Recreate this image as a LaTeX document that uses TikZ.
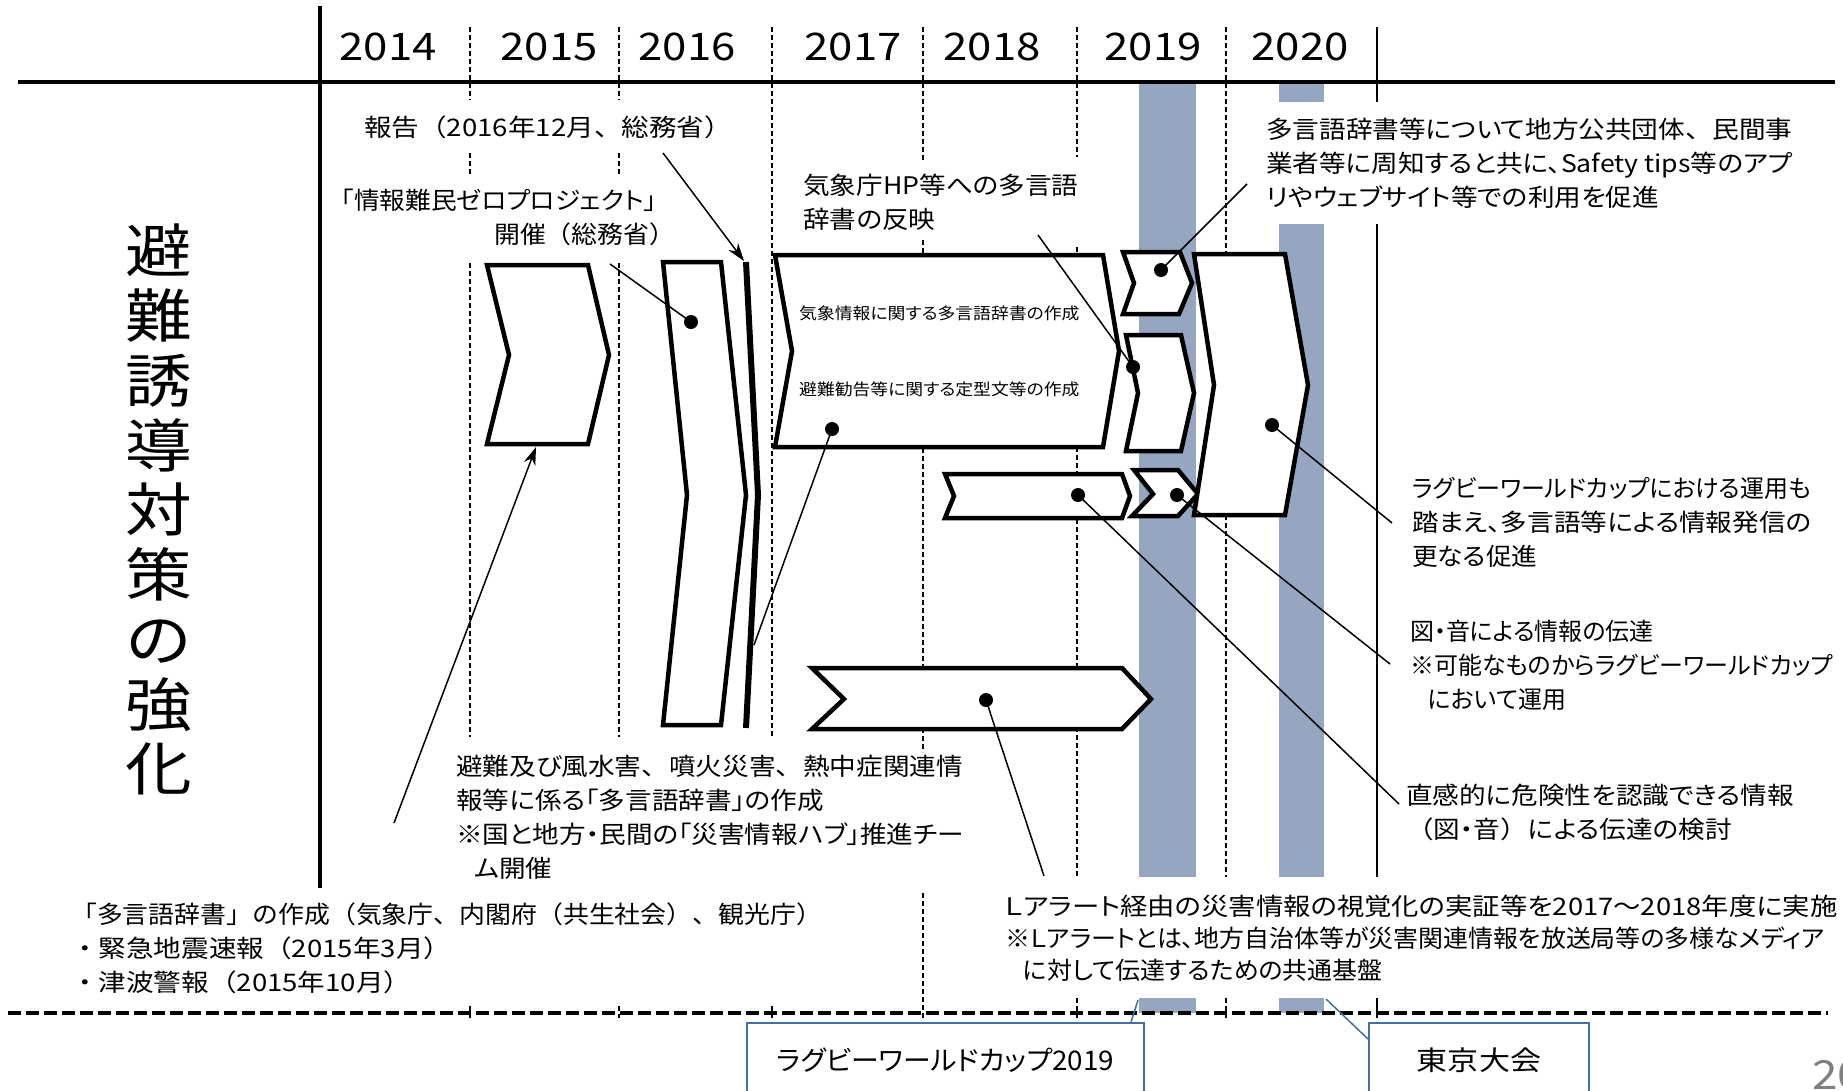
\documentclass[tikz,border=0pt]{standalone}
\usepackage{fontspec}
\setmainfont{Noto Sans CJK JP}[FakeStretch=1.15,RawFeature=+palt]
\newfontfamily\jpA{Noto Sans CJK JP}[FakeStretch=1.10,RawFeature=+palt]
\newfontfamily\jpB{Noto Sans CJK JP}[FakeStretch=1.06,RawFeature=+palt]
\newfontfamily\jpC{Noto Sans CJK JP}[FakeStretch=1.03,RawFeature=+palt]
\newfontfamily\jpD{Noto Sans CJK JP}[FakeStretch=0.99,RawFeature=+palt]
\newfontfamily\jpE{Noto Sans CJK JP}[FakeStretch=1.13,RawFeature=+palt]
\newfontfamily\jpF{Noto Sans CJK JP}[FakeStretch=1.07]
\newfontfamily\jpG{Noto Sans CJK JP}[FakeStretch=1.14]
\usetikzlibrary{arrows.meta}
\definecolor{barblue}{RGB}{151,166,192}
\definecolor{boxblue}{RGB}{65,113,156}
\definecolor{pagegrey}{RGB}{128,128,128}
\tikzset{
  chev/.style={draw=black, fill=white, line width=4.5pt, line join=miter},
  dot/.style={circle, fill=black, inner sep=0pt, minimum size=14pt},
  lead/.style={line width=1.5pt},
  arr/.style={line width=1.5pt, -{Stealth[length=18pt,width=12pt]}},
  ydash/.style={line width=1.4pt, dash pattern=on 5pt off 3pt},
  ysolid/.style={line width=1.4pt},
  txt/.style={align=left, inner sep=0pt, anchor=north west},
  txtA/.style={txt, font=\fontsize{24.2}{34}\selectfont\jpA},
  txtB/.style={txt, font=\fontsize{24.2}{34}\selectfont\jpB},
  txtD/.style={txt, font=\fontsize{24.2}{34}\selectfont\jpD},
  txtF/.style={txt, font=\fontsize{24.2}{34}\selectfont\jpF},
  txtG/.style={txt, font=\fontsize{24.2}{34}\selectfont\jpG},
  txtL/.style={txt, font=\fontsize{24.2}{32}\selectfont\jpC},
  smalltxt/.style={font=\fontsize{16.2}{18}\selectfont\jpA, inner sep=0pt, anchor=west},
  yr/.style={font=\fontsize{38}{40}\selectfont, inner sep=0pt},
  bbox/.style={draw=boxblue, line width=2pt, fill=white, inner sep=0pt},
  callout/.style={draw=boxblue, line width=1.5pt}
}
\begin{document}
\begin{tikzpicture}[x=1pt, y=-1pt]
\useasboundingbox[fill=white] (0,0) rectangle (1843,1090);

% event bars
\fill[barblue] (1139,82) rectangle (1196,877);
\fill[barblue] (1139,998) rectangle (1196,1013);
\fill[barblue] (1279,82) rectangle (1324,102);
\fill[barblue] (1279,224) rectangle (1324,877);
\fill[barblue] (1279,998) rectangle (1324,1013);

% year separators
\draw[ydash] (470,27) -- (470,100) (470,153) -- (470,175) (470,263) -- (470,737) (470,1006) -- (470,1018);
\draw[ydash] (619,27) -- (619,100) (619,153) -- (619,175) (619,263) -- (619,737) (619,1006) -- (619,1018);
\draw[ydash] (772,27) -- (772,737) (772,1006) -- (772,1018);
\draw[ydash] (923,27) -- (923,160) (923,240) -- (923,752) (923,893) -- (923,1018);
\draw[ydash] (1077,27) -- (1077,157) (1077,247) -- (1077,877) (1077,998) -- (1077,1018);
\draw[ydash] (1226,27) -- (1226,877) (1226,998) -- (1226,1018);
\draw[ysolid] (1377,27) -- (1377,102) (1377,224) -- (1377,877) (1377,998) -- (1377,1018);

% bottom dashed separator
\draw[line width=3.5pt, dash pattern=on 13pt off 5pt] (8,1013) -- (1828,1013);

% header lines
\draw[line width=4.5pt] (320,6) -- (320,888);
\draw[line width=4.5pt] (18,82) -- (1835,82);

% years
\node[yr] (y2014) at (388,47) {2014};
\node[yr] (y2015) at (549,47) {2015};
\node[yr] (y2016) at (687,47) {2016};
\node[yr] (y2017) at (853,47) {2017};
\node[yr] (y2018) at (992,47) {2018};
\node[yr] (y2019) at (1153,47) {2019};
\node[yr] (y2020) at (1300,47) {2020};

% row title
\node[font=\fontsize{58}{64.75}\selectfont, align=center, anchor=north, inner sep=0pt] (title) at (159,224)
  {避\\難\\誘\\導\\対\\策\\の\\強\\化};

% chevrons
\draw[chev] (487,265) -- (588,265) -- (609,355) -- (588,444) -- (487,444) -- (509,355) -- cycle;
\draw[chev] (663,262) -- (721,262) -- (746,495) -- (721,725) -- (663,725) -- (687,495) -- cycle;
\draw[line width=6pt, line join=miter] (746,262) -- (758,495) -- (746,728);
\draw[chev] (775,255) -- (1103,255) -- (1119,351) -- (1103,447) -- (775,447) -- (792,351) -- cycle;
\draw[chev] (945,474) -- (1122,474) -- (1130,496) -- (1122,518) -- (945,518) -- (954,496) -- cycle;
\draw[chev] (812,668) -- (1122,668) -- (1151,699) -- (1122,729) -- (812,729) -- (844,699) -- cycle;
\draw[chev] (1123,252) -- (1180,252) -- (1192,283) -- (1179,314) -- (1123,314) -- (1134,283) -- cycle;
\draw[chev] (1126,335) -- (1181,335) -- (1194,393) -- (1181,451) -- (1126,451) -- (1138,393) -- cycle;
\draw[chev] (1134,470) -- (1178,470) -- (1198,494) -- (1178,516) -- (1132,516) -- (1153,494) -- cycle;
\draw[chev] (1194,254) -- (1285,254) -- (1308,385) -- (1285,515) -- (1194,515) -- (1214,385) -- cycle;

% text
\node[txtG] (report) at (364,116) {報告（2016年12月、総務省）};
\node[txtB] (zero) at (341,189) {「情報難民ゼロプロジェクト」\\\hspace*{153pt}{\jpF 開催（総務省）}};
\node[txtA] (hp) at (803,174) {気象庁HP等への多言語\\辞書の反映};
\node[txtA] (apps) at (1266,118) {多言語辞書等について地方公共団体{\jpG 、}民間事\\業者等に周知すると共に、Safety tips等のアプ\\リやウェブサイト等での利用を促進};
\node[smalltxt] (wx) at (799,313) {気象情報に関する多言語辞書の作成};
\node[smalltxt] (std) at (799,389) {避難勧告等に関する定型文等の作成};
\node[txtB] (rugby) at (1412,477) {{\jpD ラグビーワールドカップにおける運用も}\\{\jpA 踏まえ、多言語等による情報発信の}\\更なる促進};
\node[txtD] (fig) at (1410,620) {図・音による情報の伝達\\※可能なものからラグビーワールドカップ\\\hspace*{18pt}において運用};
\node[txtA] (intu) at (1406,784) {直感的に危険性を認識できる情報\\{\jpG （}図・音{\jpG ）}による伝達の検討};
\node[txtA] (evac) at (456,755) {避難及び風水害{\jpG 、}噴火災害{\jpG 、}熱中症関連情\\報等に係る「多言語辞書」の作成\\※国と地方・民間の「災害情報ハブ」推進チー\\\hspace*{18pt}ム開催};
\node[txtF] (dict) at (71,903) {「多言語辞書」の作成（気象庁、内閣府（共生社会）、観光庁）\\{\jpG ・緊急地震速報（2015年3月）}\\{\jpG ・津波警報（2015年10月）}};
\node[txtL] (lalert) at (1005,895) {{\jpE Ｌアラート経由の災害情報の視覚化の実証等を2017～2018年度に実施}\\※Ｌアラートとは、地方自治体等が災害関連情報を放送局等の多様なメディア\\\hspace*{18pt}に対して伝達するための共通基盤};

% connector end points
\coordinate (kaisaiEnd) at (610,264);
\coordinate (sliverPt) at (754,645);
\coordinate (hpEnd) at (1038,235);
\coordinate (intuEnd) at (1399,804);
\coordinate (figEnd) at (1390,664);
\coordinate (appsEnd) at (1247,184);
\coordinate (rugbyEnd) at (1392,523);
\coordinate (lalertEnd) at (1044,876);
\coordinate (dictStart) at (394,823);
\coordinate (aBottom) at (536,447);
\coordinate (reportStart) at (663,153);
\coordinate (sliverTop) at (744,261);

% dots
\node[dot] (dB) at (691,322) {};
\node[dot] (dC) at (832,429) {};
\node[dot] (dG) at (1133,367) {};
\node[dot] (dD) at (1078,495) {};
\node[dot] (dH) at (1177,495) {};
\node[dot] (dF) at (1161,270) {};
\node[dot] (dI) at (1272,425) {};
\node[dot] (dE) at (986,700) {};

% leaders
\draw[lead] (kaisaiEnd) -- (dB.center);
\draw[lead] (dC.center) -- (sliverPt);
\draw[lead] (dG.center) -- (hpEnd);
\draw[lead] (dD.center) -- (intuEnd);
\draw[lead] (dH.center) -- (figEnd);
\draw[lead] (dF.center) -- (appsEnd);
\draw[lead] (dI.center) -- (rugbyEnd);
\draw[lead] (dE.center) -- (lalertEnd);
\draw[arr] (dictStart) -- (aBottom);
\draw[arr] (reportStart) -- (sliverTop);

% event boxes
\coordinate (rwcTip) at (1138,1000);
\coordinate (tkyTip) at (1326,999);
\node[bbox, font=\fontsize{27}{30}\selectfont\jpC, minimum width=397pt, minimum height=74pt] (rwc) at (945.5,1060) {ラグビーワールドカップ2019};
\node[bbox, font=\fontsize{27}{30}\selectfont, minimum width=220pt, minimum height=74pt] (tky) at (1479,1060) {東京大会};
\draw[callout] ([xshift=-14pt]rwc.north east) -- (rwcTip);
\draw[callout] ([yshift=-17pt]tky.north west) -- (tkyTip);

% page number
\node[font=\fontsize{40}{40}\selectfont, text=pagegrey, anchor=west, inner sep=0pt] (pnum) at (1812,1075) {20};
\end{tikzpicture}
\end{document}
